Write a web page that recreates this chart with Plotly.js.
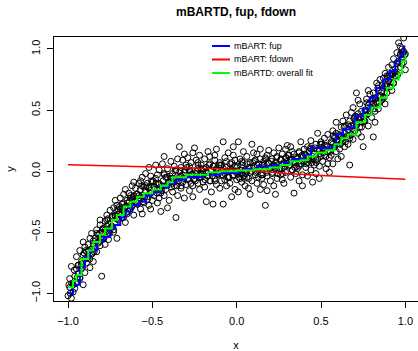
<!DOCTYPE html>
<html>
<head>
<meta charset="utf-8">
<script src="https://cdn.plot.ly/plotly-3.0.1.min.js"></script>
<style>html,body{margin:0;padding:0;background:#fff;}#chart{width:418px;height:351px;}</style>
</head>
<body>
<div id="chart"></div>
<script>
const xLeft = [
-1.00,-0.99,-0.99,-0.98,-0.98,-0.97,-0.97,-0.96,-0.96,-0.95,-0.95,-0.95,
-0.94,-0.94,-0.93,-0.93,-0.92,-0.92,-0.91,-0.91,-0.90,-0.90,-0.90,-0.91,
-0.89,-0.89,-0.88,-0.88,-0.87,-0.87,-0.86,-0.86,-0.86,-0.85,-0.85,-0.85,
-0.84,-0.84,-0.83,-0.83,-0.82,-0.82,-0.81,-0.81,-0.80,-0.80,-0.80,-0.81,
-0.79,-0.79,-0.78,-0.78,-0.77,-0.77,-0.76,-0.76,-0.75,-0.75,-0.76,-0.77,
-0.74,-0.74,-0.73,-0.73,-0.72,-0.72,-0.71,-0.71,-0.70,-0.70,-0.71,-0.72,
-0.69,-0.69,-0.68,-0.68,-0.67,-0.67,-0.66,-0.66,-0.65,-0.65,-0.66,-0.67,
-0.64,-0.64,-0.63,-0.63,-0.62,-0.62,-0.61,-0.61,-0.60,-0.60,-0.61,-0.62,
-0.59,-0.59,-0.58,-0.58,-0.57,-0.57,-0.56,-0.56,-0.55,-0.55,-0.56,-0.57,
-0.54,-0.54,-0.53,-0.53,-0.52,-0.52,-0.51,-0.51,-0.50,-0.50,-0.51,-0.52,
-0.49,-0.49,-0.48,-0.48,-0.47,-0.47,-0.46,-0.46,-0.45,-0.45,-0.46,-0.47,
-0.44,-0.44,-0.43,-0.43,-0.42,-0.42,-0.41,-0.41,-0.40,-0.40,-0.41,-0.43];
const yLeft = [
-1.02,-0.95,-0.88,-1.04,-0.78,-0.93,-0.99,-0.86,-0.96,-0.80,-0.91,-0.70,
-0.84,-0.77,-0.65,-0.88,-0.74,-0.80,-0.69,-0.93,-0.72,-0.62,-0.83,-0.58,
-0.66,-0.75,-0.60,-0.70,-0.55,-0.79,-0.64,-0.68,-0.51,-0.60,-0.74,-0.57,
-0.55,-0.63,-0.48,-0.66,-0.58,-0.52,-0.44,-0.61,-0.86,-0.50,-0.56,-0.40,
-0.47,-0.55,-0.41,-0.60,-0.45,-0.36,-0.50,-0.43,-0.32,-0.48,-0.56,-0.40,
-0.38,-0.45,-0.30,-0.50,-0.36,-0.42,-0.55,-0.28,-0.35,-0.40,-0.33,-0.24,
-0.31,-0.22,-0.38,-0.27,-0.33,-0.19,-0.29,-0.42,-0.24,-0.35,-0.15,-0.26,
-0.26,-0.18,-0.31,-0.22,-0.12,-0.28,-0.36,-0.20,-0.25,-0.14,-0.09,-0.23,
-0.19,-0.27,-0.10,-0.22,-0.31,-0.15,-0.05,-0.20,-0.26,-0.13,-0.35,-0.08,
-0.16,-0.02,-0.21,-0.10,-0.28,-0.13,-0.04,-0.18,-0.24,-0.09,-0.31,0.03,
-0.13,-0.20,-0.06,0.05,-0.15,-0.26,-0.10,0.01,-0.18,-0.33,-0.22,-0.03,
-0.12,0.06,0.12,-0.20,-0.05,-0.15,-0.30,0.02,-0.09,-0.24,-0.11,-0.02];

const xMid = [
-0.39,-0.39,-0.38,-0.38,-0.37,-0.37,-0.36,-0.36,-0.35,-0.35,-0.36,-0.38,
-0.34,-0.34,-0.33,-0.33,-0.32,-0.32,-0.31,-0.31,-0.30,-0.30,-0.31,-0.33,
-0.29,-0.29,-0.28,-0.28,-0.27,-0.27,-0.26,-0.26,-0.25,-0.25,-0.26,-0.28,
-0.24,-0.24,-0.23,-0.23,-0.22,-0.22,-0.21,-0.21,-0.20,-0.20,-0.22,-0.23,
-0.19,-0.19,-0.18,-0.18,-0.17,-0.17,-0.16,-0.16,-0.15,-0.15,-0.16,-0.18,
-0.14,-0.14,-0.13,-0.13,-0.12,-0.12,-0.11,-0.11,-0.10,-0.10,-0.12,-0.13,
-0.09,-0.09,-0.08,-0.08,-0.07,-0.07,-0.06,-0.06,-0.05,-0.05,-0.06,-0.08,
-0.04,-0.04,-0.03,-0.03,-0.02,-0.02,-0.01,-0.01,0.00,0.00,-0.02,-0.04,
0.01,0.01,0.02,0.02,0.03,0.03,0.04,0.04,0.05,0.05,0.03,0.02,
0.06,0.06,0.07,0.07,0.08,0.08,0.09,0.09,0.10,0.10,0.08,0.06,
0.11,0.11,0.12,0.12,0.13,0.13,0.14,0.14,0.15,0.15,0.12,0.14,
0.16,0.16,0.17,0.17,0.18,0.18,0.19,0.19,0.20,0.20,0.17,0.18,
0.21,0.21,0.22,0.22,0.23,0.23,0.24,0.24,0.25,0.25,0.22,0.24,
0.26,0.26,0.27,0.27,0.28,0.28,0.29,0.29,0.30,0.30,0.27,0.29,
0.31,0.31,0.32,0.32,0.33,0.33,0.34,0.34,0.35,0.35,0.32,0.34,
0.36,0.36,0.37,0.37,0.38,0.38,0.39,0.39,0.40,0.40,0.37,0.39];
const yMid = [
-0.06,0.08,-0.17,-0.02,0.04,-0.12,-0.38,-0.07,0.10,-0.20,0.01,-0.10,
0.20,-0.05,-0.14,0.03,-0.09,0.09,-0.22,-0.01,0.05,-0.11,0.14,-0.04,
-0.07,0.11,-0.16,0.01,-0.03,0.07,-0.12,0.15,0.19,-0.06,-0.21,0.04,
-0.02,0.09,-0.10,0.02,-0.15,0.13,-0.05,0.05,-0.09,0.00,-0.03,0.07,
0.10,-0.13,-0.25,0.03,-0.04,0.16,-0.08,0.06,-0.17,0.01,0.12,-0.01,
-0.27,0.04,-0.06,0.09,-0.11,0.18,0.00,-0.03,0.07,-0.14,0.02,0.13,
-0.08,0.05,0.24,-0.27,-0.02,0.11,-0.12,0.03,0.15,-0.05,0.08,0.00,
-0.10,0.06,-0.21,0.01,0.13,-0.04,0.09,-0.15,0.03,-0.07,0.20,0.00,
0.24,-0.17,-0.02,0.10,0.05,-0.09,0.16,-0.04,0.01,-0.12,0.08,-0.06,
0.12,-0.05,0.03,-0.14,0.07,-0.01,0.22,-0.08,0.04,0.15,-0.19,0.00,
-0.03,0.09,0.14,-0.10,0.02,0.06,-0.15,0.18,0.05,-0.06,0.00,0.10,
0.08,-0.11,-0.28,0.02,0.13,-0.04,0.06,0.17,-0.08,0.03,0.11,-0.16,
0.10,-0.02,0.15,0.04,-0.19,0.07,-0.06,0.12,0.01,0.19,-0.12,0.05,
0.09,-0.03,0.14,0.02,-0.10,0.06,0.18,-0.01,0.21,0.08,-0.07,0.11,
0.04,0.13,-0.05,0.09,0.16,0.01,-0.18,0.07,0.11,-0.02,0.20,0.14,
0.10,0.02,-0.08,0.15,0.24,0.06,-0.03,0.12,0.08,0.18,0.04,-0.12];

const xRight = [
0.41,0.41,0.42,0.42,0.43,0.43,0.44,0.44,0.45,0.45,0.42,0.44,
0.46,0.46,0.47,0.47,0.48,0.48,0.49,0.49,0.50,0.50,0.47,0.49,
0.51,0.51,0.52,0.52,0.53,0.53,0.54,0.54,0.55,0.55,0.52,0.54,
0.56,0.56,0.57,0.57,0.58,0.58,0.59,0.59,0.60,0.60,0.57,0.59,
0.61,0.61,0.62,0.62,0.63,0.63,0.64,0.64,0.65,0.65,0.62,0.64,
0.66,0.66,0.67,0.67,0.68,0.68,0.69,0.69,0.70,0.70,0.67,0.69,
0.71,0.71,0.72,0.72,0.73,0.73,0.74,0.74,0.75,0.75,0.72,0.74,
0.76,0.76,0.77,0.77,0.78,0.78,0.79,0.79,0.80,0.80,0.81,0.78,
0.81,0.81,0.82,0.82,0.83,0.83,0.84,0.84,0.85,0.85,0.82,0.84,
0.86,0.86,0.87,0.87,0.88,0.88,0.89,0.89,0.90,0.90,0.87,0.89,
0.91,0.91,0.92,0.92,0.93,0.93,0.94,0.94,0.95,0.95,0.92,0.94,
0.96,0.96,0.97,0.97,0.98,0.98,0.99,0.99,1.00,1.00,0.97,0.99];
const yRight = [
0.13,0.03,0.20,-0.04,0.09,0.16,0.01,0.25,-0.09,0.12,0.07,0.18,
0.14,0.05,0.22,-0.02,0.31,0.10,0.17,0.04,0.12,0.24,0.09,-0.06,
0.19,0.08,0.27,0.13,0.02,0.21,0.16,0.30,-0.01,0.11,0.18,0.06,
0.24,0.13,0.33,0.06,0.20,0.28,0.40,0.16,0.25,0.10,0.22,0.31,
0.29,0.18,0.36,0.12,0.25,0.41,0.31,0.20,0.46,0.28,0.23,0.37,
0.34,0.22,0.05,0.41,0.30,0.48,0.37,0.26,0.44,0.33,0.29,0.52,
0.64,0.40,0.31,0.47,0.42,0.55,0.36,0.49,0.20,0.45,0.58,0.28,
0.50,0.41,0.59,0.46,0.37,0.54,0.63,0.49,0.57,0.44,0.28,0.66,
0.55,0.64,0.49,0.60,0.72,0.56,0.66,0.51,0.62,0.75,0.40,0.70,
0.65,0.58,0.76,0.68,0.55,0.80,0.71,0.64,0.74,0.85,0.61,0.78,
0.76,0.69,0.87,0.79,0.72,0.92,0.84,0.78,0.88,0.97,0.66,0.81,
1.05,0.90,0.85,0.95,0.92,1.00,0.89,1.09,0.83,0.96,1.02,0.98];

// points in the dense core of the band
const xCore = [
-0.995,-0.987,-0.979,-0.971,-0.963,-0.955, -0.945,-0.937,-0.929,-0.921,-0.913,-0.905,
-0.895,-0.887,-0.879,-0.871,-0.863,-0.855, -0.845,-0.837,-0.829,-0.821,-0.813,-0.805,
-0.795,-0.787,-0.779,-0.771,-0.763,-0.755, -0.745,-0.737,-0.729,-0.721,-0.713,-0.705,
-0.695,-0.687,-0.679,-0.671,-0.663,-0.655, -0.645,-0.637,-0.629,-0.621,-0.613,-0.605,
-0.595,-0.587,-0.579,-0.571,-0.563,-0.555, -0.545,-0.537,-0.529,-0.521,-0.513,-0.505,
-0.495,-0.487,-0.479,-0.471,-0.463,-0.455, -0.445,-0.437,-0.429,-0.421,-0.413,-0.405,
-0.395,-0.387,-0.379,-0.371,-0.363,-0.355, -0.345,-0.337,-0.329,-0.321,-0.313,-0.305,
-0.295,-0.287,-0.279,-0.271,-0.263,-0.255, -0.245,-0.237,-0.229,-0.221,-0.213,-0.205,
-0.195,-0.187,-0.179,-0.171,-0.163,-0.155, -0.145,-0.137,-0.129,-0.121,-0.113,-0.105,
-0.095,-0.087,-0.079,-0.071,-0.063,-0.055, -0.045,-0.037,-0.029,-0.021,-0.013,-0.005,
0.005,0.013,0.021,0.029,0.037,0.045, 0.055,0.063,0.071,0.079,0.087,0.095,
0.105,0.113,0.121,0.129,0.137,0.145, 0.155,0.163,0.171,0.179,0.187,0.195,
0.205,0.213,0.221,0.229,0.237,0.245, 0.255,0.263,0.271,0.279,0.287,0.295,
0.305,0.313,0.321,0.329,0.337,0.345, 0.355,0.363,0.371,0.379,0.387,0.395,
0.405,0.413,0.421,0.429,0.437,0.445, 0.455,0.463,0.471,0.479,0.487,0.495,
0.505,0.513,0.521,0.529,0.537,0.545, 0.555,0.563,0.571,0.579,0.587,0.595,
0.605,0.613,0.621,0.629,0.637,0.645, 0.655,0.663,0.671,0.679,0.687,0.695,
0.705,0.713,0.721,0.729,0.737,0.745, 0.755,0.763,0.771,0.779,0.787,0.795,
0.805,0.813,0.821,0.829,0.837,0.845, 0.855,0.863,0.871,0.879,0.887,0.895,
0.905,0.913,0.921,0.929,0.937,0.945, 0.955,0.963,0.971,0.979,0.987,0.995];
const yCore = [
-0.93,-1.00,-0.92,-0.93,-0.81,-0.92, -0.87,-0.77,-0.87,-0.76,-0.76,-0.67,
-0.65,-0.71,-0.65,-0.72,-0.64,-0.67, -0.66,-0.57,-0.51,-0.59,-0.51,-0.54,
-0.47,-0.55,-0.48,-0.49,-0.39,-0.51, -0.46,-0.37,-0.48,-0.37,-0.39,-0.31,
-0.29,-0.36,-0.30,-0.38,-0.30,-0.34, -0.33,-0.25,-0.20,-0.29,-0.21,-0.25,
-0.19,-0.27,-0.20,-0.22,-0.12,-0.25, -0.21,-0.12,-0.23,-0.14,-0.16,-0.08,
-0.08,-0.15,-0.10,-0.18,-0.11,-0.15, -0.16,-0.08,-0.03,-0.12,-0.05,-0.09,
-0.04,-0.13,-0.06,-0.09,0.00,-0.12, -0.08,0.00,-0.12,-0.03,-0.06,0.01,
0.03,-0.06,0.00,-0.10,-0.02,-0.07, -0.08,0.00,0.05,-0.05,0.02,-0.03,
0.02,-0.07,-0.01,-0.04,0.05,-0.08, -0.04,0.04,-0.08,0.01,-0.02,0.05,
0.05,-0.03,0.02,-0.07,0.00,-0.05, -0.05,0.02,0.07,-0.03,0.04,-0.01,
0.04,-0.05,0.01,-0.02,0.07,-0.06, -0.02,0.06,-0.06,0.03,0.00,0.07,
0.08,-0.01,0.05,-0.05,0.03,-0.03, -0.03,0.05,0.10,-0.01,0.07,0.02,
0.08,-0.01,0.05,0.02,0.11,-0.02, 0.02,0.10,-0.02,0.07,0.04,0.11,
0.13,0.05,0.10,0.01,0.08,0.03, 0.04,0.11,0.16,0.06,0.13,0.08,
0.14,0.06,0.12,0.10,0.19,0.07, 0.10,0.19,0.07,0.17,0.14,0.22,
0.22,0.15,0.21,0.12,0.20,0.16, 0.16,0.23,0.29,0.20,0.28,0.24,
0.30,0.22,0.29,0.27,0.36,0.24, 0.29,0.38,0.27,0.37,0.35,0.43,
0.45,0.38,0.44,0.36,0.44,0.40, 0.41,0.49,0.56,0.47,0.56,0.52,
0.59,0.51,0.59,0.57,0.68,0.56, 0.61,0.70,0.60,0.70,0.69,0.77,
0.79,0.73,0.80,0.72,0.81,0.78, 0.79,0.89,0.96,0.88,0.97,0.95];

// ---- fitted functions ----
const fupX = [-1.00,-0.97,-0.93,-0.90,-0.87,-0.83,-0.79,-0.75,-0.72,-0.69,-0.66,-0.62,-0.58,-0.54,-0.50,-0.45,-0.40,-0.36,-0.30,-0.20,-0.10,0.02,0.04,0.12,0.22,0.28,0.33,0.40,0.44,0.55,0.59,0.63,0.67,0.70,0.75,0.79,0.83,0.87,0.91,0.94,0.97,0.99,1.00];
const fupY = [-1.00,-0.93,-0.79,-0.70,-0.65,-0.58,-0.54,-0.47,-0.44,-0.38,-0.33,-0.28,-0.25,-0.20,-0.17,-0.13,-0.10,-0.07,-0.05,-0.03,-0.015,0.00,0.02,0.04,0.05,0.07,0.10,0.13,0.19,0.20,0.30,0.34,0.36,0.45,0.51,0.60,0.68,0.75,0.82,0.90,0.95,1.02,1.02];
const fdownX = [-1.00,-0.50,-0.10,0.05,0.30,0.50,0.70,1.00];
const fdownY = [0.052,0.035,0.02,0.01,-0.02,-0.035,-0.045,-0.066];
const fitX = [-1.00,-0.97,-0.95,-0.92,-0.88,-0.85,-0.81,-0.78,-0.74,-0.71,-0.67,-0.63,-0.59,-0.55,-0.50,-0.45,-0.41,-0.38,-0.30,-0.17,-0.10,0.00,0.10,0.20,0.26,0.32,0.38,0.42,0.47,0.53,0.58,0.62,0.66,0.71,0.76,0.80,0.85,0.89,0.93,0.96,0.98,1.00];
const fitY = [-0.95,-0.90,-0.85,-0.72,-0.65,-0.58,-0.52,-0.47,-0.40,-0.36,-0.29,-0.25,-0.21,-0.18,-0.15,-0.12,-0.09,-0.05,-0.03,-0.01,0.00,0.005,0.015,0.03,0.05,0.08,0.09,0.12,0.15,0.17,0.22,0.27,0.30,0.40,0.46,0.52,0.60,0.68,0.75,0.80,0.90,0.95];

const legendLabels = ["mBART: fup","mBART: fdown","mBARTD: overall fit"];
const legendColors = ["#0000ff","#ff0000","#00ff00"];
const tickVals = [-1.0,-0.5,0.0,0.5,1.0];
const tickText = ["\u22121.0","\u22120.5","0.0","0.5","1.0"];

const FONT = "Liberation Sans, Arial, Helvetica, sans-serif";

const traces = [
  {x: xLeft.concat(xMid, xRight, xCore), y: yLeft.concat(yMid, yRight, yCore), type: "scatter", mode: "markers",
   marker: {symbol: "circle-open", size: 6, color: "#000", line: {width: 1, color: "#000"}}, hoverinfo: "skip"},
  {x: fupX, y: fupY, type: "scatter", mode: "lines", line: {color: legendColors[0], width: 2, shape: "hv"}},
  {x: fdownX, y: fdownY, type: "scatter", mode: "lines", line: {color: legendColors[1], width: 1.5, shape: "linear"}},
  {x: fitX, y: fitY, type: "scatter", mode: "lines", line: {color: legendColors[2], width: 2, shape: "hv"}}
];

// custom legend (no box), placed in paper coordinates
const rowsPx = [46, 59.5, 73];
const shapes = [], annotations = [];
const W = 364, H = 264, L = 54, T = 37;
rowsPx.forEach((py, i) => {
  const yp = (T + H - py) / H;
  shapes.push({type: "line", xref: "paper", yref: "paper", x0: (212 - L) / W, x1: (230 - L) / W, y0: yp, y1: yp,
               line: {color: legendColors[i], width: 2}});
  annotations.push({xref: "paper", yref: "paper", x: (232 - L) / W, y: yp, xanchor: "left", yanchor: "middle",
                    text: legendLabels[i], showarrow: false, font: {family: FONT, size: 9, color: "#000"}});
});

const layout = {
  width: 418, height: 351,
  margin: {l: L, r: 0, t: T, b: 351 - T - H},
  paper_bgcolor: "#fff", plot_bgcolor: "#fff",
  showlegend: false,
  font: {family: FONT, size: 11, color: "#000"},
  title: {text: "<b>mBARTD, fup, fdown</b>", font: {family: FONT, size: 12, color: "#000"},
          xref: "paper", x: 0.5, xanchor: "center", yref: "container", y: 1 - 12 / 351, yanchor: "middle"},
  xaxis: {range: [-1.083, 1.075], showgrid: false, zeroline: false, showline: true, mirror: true,
          linecolor: "#000", linewidth: 1, ticks: "outside", ticklen: 6, tickwidth: 1, tickcolor: "#000",
          tickvals: tickVals, ticktext: tickText, ticklabelstandoff: 4,
          title: {text: "x", font: {family: FONT, size: 11}, standoff: 16}},
  yaxis: {range: [-1.063, 1.098], showgrid: false, zeroline: false, showline: true, mirror: false,
          linecolor: "#000", linewidth: 1, ticks: "outside", ticklen: 6, tickwidth: 1, tickcolor: "#000",
          tickvals: tickVals, ticktext: tickText, tickangle: -90, ticklabelstandoff: 3,
          title: {text: "y", font: {family: FONT, size: 11}, standoff: 12}},
  shapes: shapes, annotations: annotations
};

Plotly.newPlot("chart", traces, layout, {staticPlot: true, displayModeBar: false});
</script>
</body>
</html>
